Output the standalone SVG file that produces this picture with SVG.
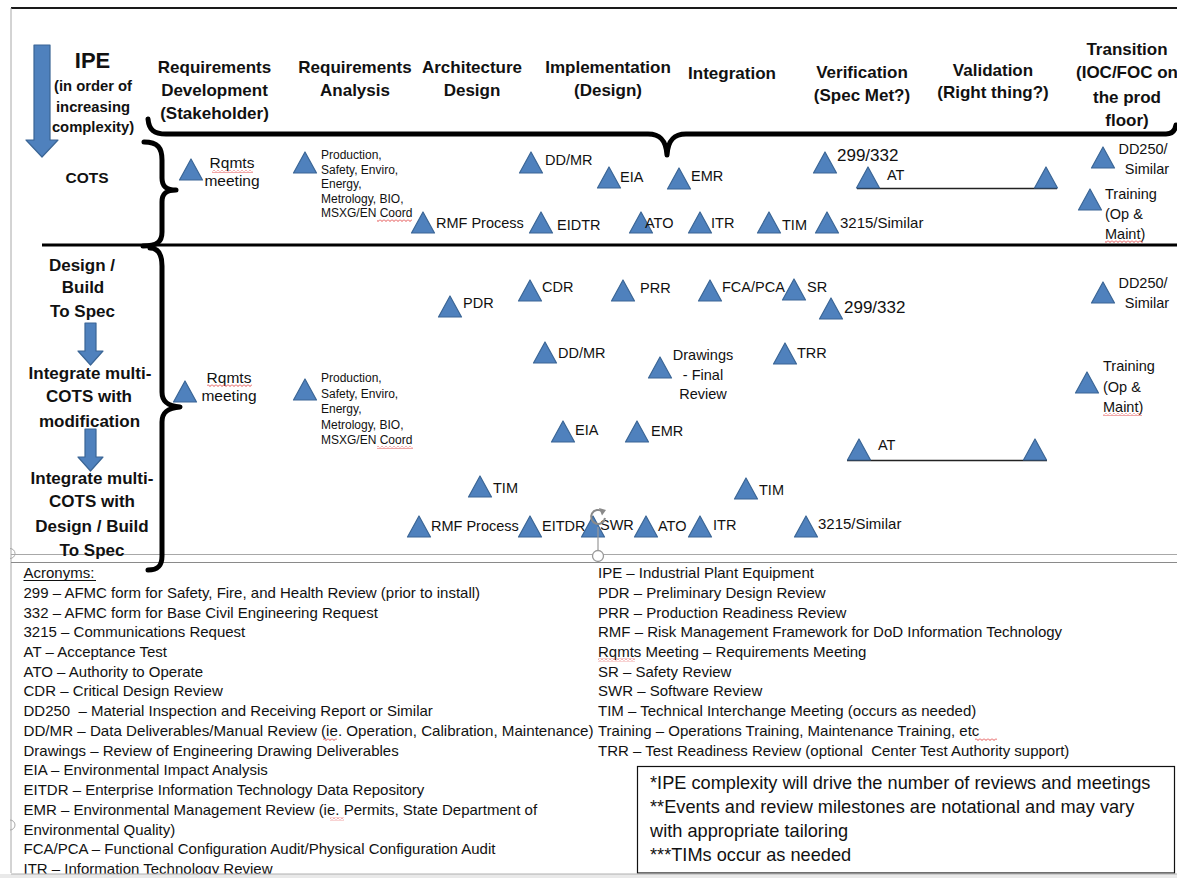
<svg xmlns="http://www.w3.org/2000/svg" xmlns:xlink="http://www.w3.org/1999/xlink" width="1177" height="878" viewBox="0 0 1177 878">
<style>
text{font-family:"Liberation Sans",Arial,sans-serif;fill:#111}
.hdr{font-size:17px;font-weight:bold;text-anchor:middle}
.side{font-size:17px;font-weight:bold;text-anchor:middle}
.lbl{font-size:14.5px}
.sm{font-size:12px}
.acr{font-size:15px}
.note{font-size:18.2px}
.brace{fill:none;stroke:#000;stroke-width:5;stroke-linecap:round;stroke-linejoin:round}
.blue{fill:#4F81BD;stroke:#3A6595;stroke-width:1.2;stroke-linejoin:round}
.gray{stroke:#a8a8a8;stroke-width:1;fill:none}
</style>
<defs>
<path id="tri" d="M0,-21 L11.5,0 L-11.5,0 Z" class="blue"/>
<pattern id="wavy" width="4" height="3" patternUnits="userSpaceOnUse"><path d="M0,0.5 L2,2.5 L4,0.5" fill="none" stroke="#e03a3a" stroke-width="0.9"/></pattern>
</defs>
<rect width="1177" height="878" fill="#fff"/>
<!-- frame -->
<line x1="11" y1="8" x2="1177" y2="8" stroke="#1a1a1a" stroke-width="1.8"/>
<line x1="11" y1="8" x2="11" y2="873" class="gray"/>
<line x1="11" y1="554.5" x2="1177" y2="554.5" class="gray"/>
<line x1="11" y1="562.5" x2="1177" y2="562.5" stroke="#8a8a8a" stroke-width="1"/>

<!-- IPE heading + arrow -->
<g id="ipe">
<path d="M34,45 L50,45 L50,140 L58,140 L42,157 L26,140 L34,140 Z" class="blue"/>
<text x="92.5" y="68" style="font-size:22px;font-weight:bold;text-anchor:middle">IPE</text>
<text x="93" y="91" style="font-size:14.8px;font-weight:bold;text-anchor:middle">(in order of</text>
<text x="93" y="111.5" style="font-size:14.8px;font-weight:bold;text-anchor:middle">increasing</text>
<text x="93" y="132" style="font-size:14.8px;font-weight:bold;text-anchor:middle">complexity)</text>
</g>

<!-- column headers -->
<g id="headers">
<text class="hdr" x="214.5" y="73">Requirements</text>
<text class="hdr" x="214.5" y="96">Development</text>
<text class="hdr" x="214.5" y="119">(Stakeholder)</text>
<text class="hdr" x="355" y="73">Requirements</text>
<text class="hdr" x="355" y="96">Analysis</text>
<text class="hdr" x="472" y="73">Architecture</text>
<text class="hdr" x="472" y="96">Design</text>
<text class="hdr" x="608" y="73">Implementation</text>
<text class="hdr" x="608" y="96">(Design)</text>
<text class="hdr" x="732" y="79">Integration</text>
<text class="hdr" x="862" y="78">Verification</text>
<text class="hdr" x="862" y="101">(Spec Met?)</text>
<text class="hdr" x="993" y="76">Validation</text>
<text class="hdr" x="993" y="98">(Right thing?)</text>
<text class="hdr" x="1127" y="55">Transition</text>
<text class="hdr" x="1127" y="78">(IOC/FOC on</text>
<text class="hdr" x="1127" y="103">the prod</text>
<text class="hdr" x="1127" y="126">floor)</text>
</g>

<!-- braces and dividers -->
<g id="connectors">
<path class="brace" d="M148,119 C149,130 154,134 166,134 L648,134 C660,134 666,140 667,155 C668,140 674,134 686,134 L1166,134 C1172,134 1175,131 1176,125"/>
<path class="brace" d="M144,142 C158,142 162,148 162,160 L162,178 C162,186 166,190 176,190 C166,190 162,194 162,202 L162,232 C162,242 157,246 143,246"/>
<line x1="42" y1="245" x2="1177" y2="245" stroke="#000" stroke-width="3"/>
<path class="brace" d="M150,248 C158,248 162,254 162,266 L162,392 C162,402 168,406 180,407 C168,408 162,412 162,422 L162,556 C162,566 158,570 148,570"/>
<line x1="857" y1="188.5" x2="1057" y2="188.5" stroke="#222" stroke-width="1.6"/>
<line x1="847" y1="460.5" x2="1047" y2="460.5" stroke="#222" stroke-width="1.6"/>
</g>

<!-- left row labels -->
<g id="row-cots"><text x="87" y="183" style="font-size:15.5px;font-weight:bold;text-anchor:middle">COTS</text></g>
<g id="row-design">
<text class="side" x="82" y="271">Design /</text>
<text class="side" x="83" y="293">Build</text>
<text class="side" x="82.5" y="317">To Spec</text>
<path d="M85,323 L96,323 L96,351 L103,351 L90.5,365 L78,351 L85,351 Z" class="blue"/>
<text class="side" x="90" y="379">Integrate multi-</text>
<text class="side" x="89" y="402">COTS with</text>
<text class="side" x="89.5" y="427">modification</text>
<path d="M85,429 L96,429 L96,457 L103,457 L90.5,471 L78,457 L85,457 Z" class="blue"/>
<text class="side" x="92" y="484">Integrate multi-</text>
<text class="side" x="92" y="507">COTS with</text>
<text class="side" x="92" y="532">Design / Build</text>
<text class="side" x="92" y="556">To Spec</text>
</g>

<!-- COTS row nodes -->
<g id="c-rqmts"><use xlink:href="#tri" x="191" y="180"/>
<text x="232" y="168" style="font-size:15.5px;text-anchor:middle">Rqmts</text>
<text x="232" y="186" style="font-size:15.5px;text-anchor:middle">meeting</text>
<rect x="212" y="170" width="41" height="3" fill="url(#wavy)"/></g>
<g id="c-prod"><use xlink:href="#tri" x="305" y="173"/>
<text class="sm" x="321" y="158.5">Production,</text>
<text class="sm" x="321" y="173.5">Safety, Enviro,</text>
<text class="sm" x="321" y="188">Energy,</text>
<text class="sm" x="321" y="202.5">Metrology, BIO,</text>
<text class="sm" x="321" y="217">MSXG/EN Coord</text>
<rect x="377" y="219" width="35" height="3" fill="url(#wavy)"/></g>
<g id="c-rmf"><use xlink:href="#tri" x="423" y="233"/><text class="lbl" x="436" y="228">RMF Process</text></g>
<g id="c-ddmr"><use xlink:href="#tri" x="531" y="173"/><text class="lbl" x="545" y="165">DD/MR</text></g>
<g id="c-eia"><use xlink:href="#tri" x="609" y="188"/><text class="lbl" x="620" y="182">EIA</text></g>
<g id="c-emr"><use xlink:href="#tri" x="679" y="189"/><text class="lbl" x="691" y="181">EMR</text></g>
<g id="c-eidtr"><use xlink:href="#tri" x="541" y="233"/><text class="lbl" x="557" y="230">EIDTR</text></g>
<g id="c-ato"><use xlink:href="#tri" x="641" y="233"/><text class="lbl" x="645" y="228">ATO</text></g>
<g id="c-itr"><use xlink:href="#tri" x="700" y="233"/><text class="lbl" x="711" y="228">ITR</text></g>
<g id="c-tim"><use xlink:href="#tri" x="769" y="233"/><text class="lbl" x="782" y="230">TIM</text></g>
<g id="c-3215"><use xlink:href="#tri" x="827" y="233"/><text x="840" y="228" style="font-size:15px">3215/Similar</text></g>
<g id="c-299"><use xlink:href="#tri" x="825" y="173"/><text x="837" y="161" style="font-size:17px">299/332</text></g>
<g id="c-at"><use xlink:href="#tri" x="868" y="188"/><use xlink:href="#tri" x="1046" y="188"/><text class="lbl" x="887" y="180">AT</text></g>
<g id="c-dd250"><use xlink:href="#tri" x="1103" y="168"/>
<text class="lbl" x="1143" y="154" text-anchor="middle">DD250/</text>
<text class="lbl" x="1147" y="174" text-anchor="middle">Similar</text></g>
<g id="c-training"><use xlink:href="#tri" x="1090" y="210"/>
<text class="lbl" x="1105" y="199">Training</text>
<text class="lbl" x="1105" y="219">(Op &amp;</text>
<text class="lbl" x="1105" y="239">Maint)</text>
<rect x="1105" y="240" width="38" height="3" fill="url(#wavy)"/></g>

<!-- Design rows nodes -->
<g id="d-rqmts"><use xlink:href="#tri" x="185" y="402"/>
<text x="229" y="383" style="font-size:15.5px;text-anchor:middle">Rqmts</text>
<text x="229" y="401" style="font-size:15.5px;text-anchor:middle">meeting</text>
<rect x="207" y="384" width="45" height="3" fill="url(#wavy)"/></g>
<g id="d-prod"><use xlink:href="#tri" x="305" y="400"/>
<text class="sm" x="321" y="382">Production,</text>
<text class="sm" x="321" y="397.5">Safety, Enviro,</text>
<text class="sm" x="321" y="413">Energy,</text>
<text class="sm" x="321" y="428.5">Metrology, BIO,</text>
<text class="sm" x="321" y="444">MSXG/EN Coord</text>
<rect x="377" y="446" width="36" height="3" fill="url(#wavy)"/></g>
<g id="d-pdr"><use xlink:href="#tri" x="450" y="317"/><text class="lbl" x="463" y="308">PDR</text></g>
<g id="d-cdr"><use xlink:href="#tri" x="530" y="301"/><text class="lbl" x="542" y="292">CDR</text></g>
<g id="d-prr"><use xlink:href="#tri" x="623" y="301"/><text class="lbl" x="640" y="293">PRR</text></g>
<g id="d-fca"><use xlink:href="#tri" x="710" y="301"/><text class="lbl" x="722" y="292">FCA/PCA</text></g>
<g id="d-sr"><use xlink:href="#tri" x="794" y="300"/><text class="lbl" x="807" y="292">SR</text></g>
<g id="d-299"><use xlink:href="#tri" x="831" y="319"/><text x="844" y="313" style="font-size:17px">299/332</text></g>
<g id="d-ddmr"><use xlink:href="#tri" x="545" y="363"/><text class="lbl" x="558" y="358">DD/MR</text></g>
<g id="d-drawings"><use xlink:href="#tri" x="660" y="378"/>
<text class="lbl" x="703" y="360" text-anchor="middle">Drawings</text>
<text class="lbl" x="703" y="380" text-anchor="middle">- Final</text>
<text class="lbl" x="703" y="399" text-anchor="middle">Review</text></g>
<g id="d-trr"><use xlink:href="#tri" x="785" y="364"/><text class="lbl" x="797" y="358">TRR</text></g>
<g id="d-dd250"><use xlink:href="#tri" x="1103" y="303"/>
<text class="lbl" x="1143" y="288" text-anchor="middle">DD250/</text>
<text class="lbl" x="1147" y="308" text-anchor="middle">Similar</text></g>
<g id="d-training"><use xlink:href="#tri" x="1087" y="393"/>
<text class="lbl" x="1103" y="371">Training</text>
<text class="lbl" x="1103" y="392">(Op &amp;</text>
<text class="lbl" x="1103" y="412">Maint)</text>
<rect x="1103" y="413" width="39" height="3" fill="url(#wavy)"/></g>
<g id="d-eia"><use xlink:href="#tri" x="563" y="442"/><text class="lbl" x="575" y="435">EIA</text></g>
<g id="d-emr"><use xlink:href="#tri" x="637" y="442"/><text class="lbl" x="651" y="436">EMR</text></g>
<g id="d-at"><use xlink:href="#tri" x="859" y="460"/><use xlink:href="#tri" x="1035" y="460"/><text class="lbl" x="878" y="450">AT</text></g>
<g id="d-tim1"><use xlink:href="#tri" x="480" y="497"/><text class="lbl" x="493" y="493">TIM</text></g>
<g id="d-tim2"><use xlink:href="#tri" x="746" y="499"/><text class="lbl" x="759" y="495">TIM</text></g>
<g id="d-rmf"><use xlink:href="#tri" x="419" y="537"/><text class="lbl" x="431" y="531">RMF Process</text></g>
<g id="d-eitdr"><use xlink:href="#tri" x="530" y="537"/><text class="lbl" x="542" y="531">EITDR</text></g>
<g id="d-swr"><use xlink:href="#tri" x="593" y="537"/><text class="lbl" x="600" y="530">SWR</text></g>
<g id="d-ato"><use xlink:href="#tri" x="646" y="537"/><text class="lbl" x="658" y="531">ATO</text></g>
<g id="d-itr"><use xlink:href="#tri" x="700" y="537"/><text class="lbl" x="713" y="530">ITR</text></g>
<g id="d-3215"><use xlink:href="#tri" x="806" y="537"/><text x="818" y="529" style="font-size:15px">3215/Similar</text></g>

<!-- selection handles -->
<g id="handles">
<line x1="598" y1="527" x2="598" y2="550" stroke="#999" stroke-width="1.2"/>
<circle cx="598" cy="556" r="5.5" fill="#fff" stroke="#999" stroke-width="1.3"/>
<path d="M602.5,511.5 A7,7 0 1 0 605,518" fill="none" stroke="#8a8a8a" stroke-width="2"/>
<path d="M599,508 L606,510 L602,515.5 Z" fill="#8a8a8a"/>
<path d="M10,548.5 A5,5 0 0 1 10,558.5" class="gray" stroke="#999"/>
<path d="M10,820 A5,5 0 0 1 10,830" class="gray" stroke="#999"/>
</g>

<!-- acronyms -->
<g id="acronyms">
<text class="acr" x="23.5" y="578">Acronyms:</text>
<line x1="23.5" y1="580.5" x2="96" y2="580.5" stroke="#111" stroke-width="1"/>
<text class="acr" x="23.5" y="597.7">299 – AFMC form for Safety, Fire, and Health Review (prior to install)</text>
<text class="acr" x="23.5" y="617.5">332 – AFMC form for Base Civil Engineering Request</text>
<text class="acr" x="23.5" y="637.2">3215 – Communications Request</text>
<text class="acr" x="23.5" y="656.9">AT – Acceptance Test</text>
<text class="acr" x="23.5" y="676.7">ATO – Authority to Operate</text>
<text class="acr" x="23.5" y="696.4">CDR – Critical Design Review</text>
<text class="acr" x="23.5" y="716.1">DD250&#160; – Material Inspection and Receiving Report or Similar</text>
<text class="acr" x="23.5" y="735.8" textLength="570" lengthAdjust="spacingAndGlyphs">DD/MR – Data Deliverables/Manual Review (ie. Operation, Calibration, Maintenance)</text>
<rect x="323" y="738" width="14" height="3" fill="url(#wavy)"/>
<text class="acr" x="23.5" y="755.6">Drawings – Review of Engineering Drawing Deliverables</text>
<text class="acr" x="23.5" y="775.3">EIA – Environmental Impact Analysis</text>
<text class="acr" x="23.5" y="795">EITDR – Enterprise Information Technology Data Repository</text>
<text class="acr" x="23.5" y="814.8">EMR – Environmental Management Review (ie. Permits, State Department of</text>
<rect x="330" y="817.5" width="14" height="3" fill="url(#wavy)"/>
<text class="acr" x="23.5" y="834.5">Environmental Quality)</text>
<text class="acr" x="23.5" y="854.2">FCA/PCA – Functional Configuration Audit/Physical Configuration Audit</text>
<text class="acr" x="23.5" y="874">ITR – Information Technology Review</text>

<text class="acr" x="598" y="578">IPE – Industrial Plant Equipment</text>
<text class="acr" x="598" y="597.7">PDR – Preliminary Design Review</text>
<text class="acr" x="598" y="617.5">PRR – Production Readiness Review</text>
<text class="acr" x="598" y="637.2">RMF – Risk Management Framework for DoD Information Technology</text>
<text class="acr" x="598" y="656.9">Rqmts Meeting – Requirements Meeting</text>
<rect x="598" y="658.5" width="37" height="3" fill="url(#wavy)"/>
<text class="acr" x="598" y="676.7">SR – Safety Review</text>
<text class="acr" x="598" y="696.4">SWR – Software Review</text>
<text class="acr" x="598" y="716.1">TIM – Technical Interchange Meeting (occurs as needed)</text>
<text class="acr" x="598" y="735.8">Training – Operations Training, Maintenance Training, etc</text>
<rect x="975" y="738" width="22" height="3" fill="url(#wavy)"/>
<text class="acr" x="598" y="755.6">TRR – Test Readiness Review (optional&#160; Center Test Authority support)</text>
</g>

<!-- note box -->
<g id="note">
<rect x="637.5" y="766.5" width="537" height="106.5" fill="#fff" stroke="#111" stroke-width="1.2"/>
<text class="note" x="650" y="789">*IPE complexity will drive the number of reviews and meetings</text>
<text class="note" x="650" y="813">**Events and review milestones are notational and may vary</text>
<text class="note" x="650" y="837">with appropriate tailoring</text>
<text class="note" x="650" y="861">***TIMs occur as needed</text>
</g>

<rect x="0" y="874" width="1177" height="4" fill="#e9e9e9"/>
<line x1="11" y1="874" x2="1177" y2="874" stroke="#b0b0b0" stroke-width="1"/>
</svg>
